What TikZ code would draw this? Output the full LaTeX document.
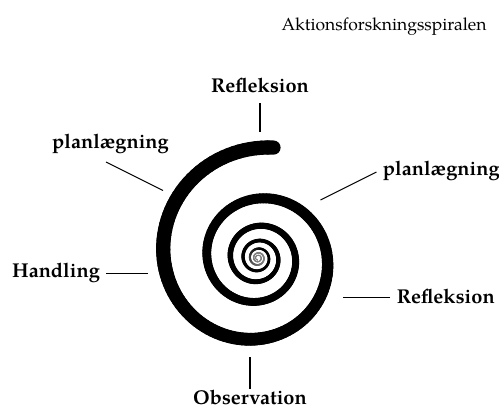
\documentclass[tikz,border=0pt]{standalone}
\usepackage{fontspec}
\setmainfont{texgyrepagella}[Extension=.otf, UprightFont=*-regular, BoldFont=*-bold, ItalicFont=*-italic, BoldItalicFont=*-bolditalic]
\begin{document}
\begin{tikzpicture}[x=1pt,y=-1pt,
  lab/.style={font=\fontsize{20}{24}\selectfont\bfseries, inner sep=0pt, anchor=base},
  ttl/.style={font=\fontsize{17.5}{21}\selectfont, inner sep=0pt, anchor=base},
  conn/.style={line width=1.1pt, black}]
\useasboundingbox (0,0) rectangle (499,408);
% spiral
\foreach \i in {0,...,780}{
  \pgfmathsetmacro\ta{82+3*\i}
  \pgfmathsetmacro\tb{\ta+3}
  \pgfmathsetmacro\ra{110*exp(-0.001712*(\ta-90))}
  \pgfmathsetmacro\rb{110*exp(-0.001712*(\tb-90))}
  \pgfmathsetmacro\w{min(14.2,15*(\ra/100)^0.8)}
  \pgfmathsetmacro\g{min(100,max(50,(\ra-3)*15))}
  \draw[line width=\w pt, line cap=round, color=black!\g!white]
    ({258+\ra*cos(\ta)},{258-\ra*sin(\ta)}) -- ({258+\rb*cos(\tb)},{258-\rb*sin(\tb)});
}
% labels
\node[ttl] (title) at (384,30) {Aktionsforskningsspiralen};
\node[lab] (rtop) at (260,92) {Refleksion};
\node[lab] (pleft) at (110.5,148) {planlægning};
\node[lab] (hand) at (56,277) {Handling};
\node[lab] (pright) at (441.3,175) {planlægning};
\node[lab] (rright) at (445.8,303.3) {Refleksion};
\node[lab] (obs) at (250,404) {Observation};
% connectors
\coordinate (rtopA) at (260,103); \coordinate (rtopB) at (260,131.5);
\coordinate (pleftA) at (106,162); \coordinate (pleftB) at (163,190.5);
\coordinate (handA) at (106,273.3); \coordinate (handB) at (148,273.3);
\coordinate (prightA) at (376.5,172); \coordinate (prightB) at (320.5,200);
\coordinate (rrightA) at (390,297.5); \coordinate (rrightB) at (343,297.5);
\coordinate (obsA) at (250,389); \coordinate (obsB) at (250,357);
\draw[conn] (rtopA) -- (rtopB);
\draw[conn] (pleftA) -- (pleftB);
\draw[conn] (handA) -- (handB);
\draw[conn] (prightA) -- (prightB);
\draw[conn] (rrightA) -- (rrightB);
\draw[conn] (obsA) -- (obsB);
\end{tikzpicture}
\end{document}
